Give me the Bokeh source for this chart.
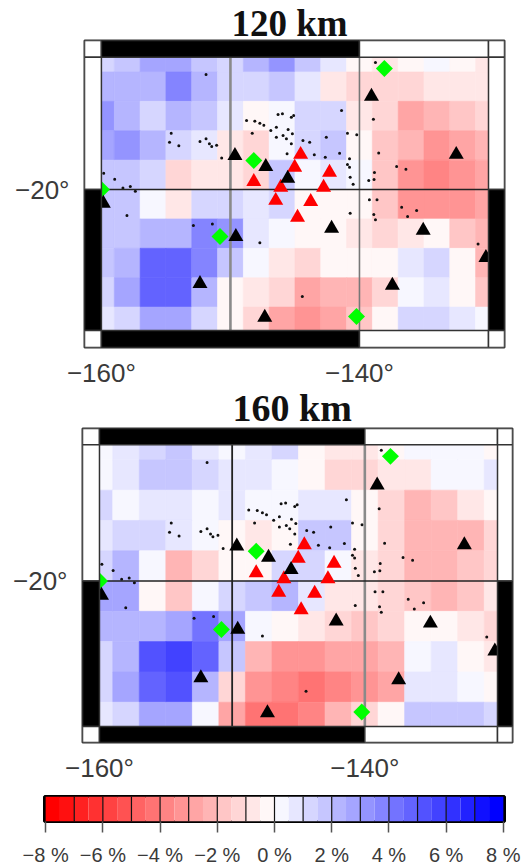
from bokeh.plotting import figure
from bokeh.models import ColumnDataSource, LinearColorMapper, FixedTicker
from bokeh.layouts import column, row
from bokeh.embed import file_html
from bokeh.resources import INLINE
import math

# ---------- data ----------
LON_EDGES = [-160, -159, -157, -155, -153, -151, -149, -147, -145, -143, -141, -139, -137, -135, -133, -131, -130]
LAT_EDGES = [-11, -12, -14, -16, -18, -20, -22, -24, -26, -28, -29.6]

VALUES_120 = [
    [1.25, 1.75, 2.75, 2.75, 1.75, 1.25, 2.25, 3.25, 1.75, 0.75, -0.25, -0.75, -0.25, 0.25, -0.25, -0.75],
    [2.25, 2.25, 2.25, 3.75, 2.25, 1.25, 1.25, 1.75, 0.75, -0.75, -1.25, -1.25, -1.25, -0.75, -0.75, -0.75],
    [3.25, 2.25, 1.25, 2.25, 1.75, 0.75, -0.25, 0.25, 1.25, 1.25, -0.75, -1.25, -2.75, -2.25, -1.75, -1.25],
    [2.75, 3.25, 2.25, 1.25, 0.75, -0.75, -1.25, 0.25, 1.25, 1.75, -0.25, -1.75, -2.25, -3.25, -2.75, -2.25],
    [1.75, 1.75, 1.25, -1.25, -0.75, -0.75, -1.25, 1.75, 0.25, 0.75, 0.25, -1.75, -3.25, -3.75, -3.25, -2.75],
    [1.75, 1.75, 0.25, -0.75, 1.25, 1.25, 0.75, 1.25, -0.25, -0.25, -0.25, -1.75, -3.25, -3.25, -3.25, -2.75],
    [1.75, 1.75, 2.25, 2.25, 3.75, 3.25, 0.75, 0.25, -0.25, -0.25, -0.75, -1.25, -0.75, -0.25, -1.75, -2.25],
    [1.75, 2.25, 4.75, 4.75, 3.75, 1.75, 0.25, -0.75, -1.25, -0.25, -0.25, -0.25, 0.75, 1.25, -0.25, -2.25],
    [1.25, 2.75, 4.75, 4.75, 2.25, -0.25, -0.75, -1.25, -2.75, -2.25, -2.25, -1.25, 0.25, 0.75, -0.25, -1.75],
    [0.75, 1.25, 2.75, 2.75, 1.25, -0.25, -1.25, -2.75, -3.25, -2.75, -1.75, -0.25, 1.25, 1.25, 0.75, 0.25],
]
VALUES_160 = [
    [0.25, 0.75, 1.25, 1.75, 0.75, 0.25, 0.75, 1.25, -0.25, -0.75, -0.75, -0.25, 0.25, 0.25, 0.25, -0.25],
    [0.25, 0.75, 1.75, 1.75, 1.25, 0.75, 0.75, 0.25, -0.25, -1.25, -1.25, -0.75, -0.75, 0.25, 0.25, 0.75],
    [1.25, 0.25, 0.75, 0.75, 0.25, 0.75, 0.25, 0.25, 0.75, 0.75, -0.25, -1.25, -2.25, -1.75, -0.75, -0.25],
    [0.75, 1.25, 1.25, 0.75, 0.25, -0.25, -0.75, -0.25, 1.75, 1.75, -0.25, -1.25, -2.25, -2.25, -2.25, -1.25],
    [1.25, 2.25, 0.25, -2.25, -1.25, -0.25, -0.25, 1.25, 1.25, 0.25, -0.75, -1.25, -2.25, -2.25, -1.75, -1.25],
    [2.75, 2.75, -0.25, -1.75, 0.25, 1.25, 1.75, 2.25, 0.75, -0.75, -0.75, -1.25, -1.75, -2.25, -1.75, -0.75],
    [2.25, 2.25, 2.25, 2.75, 4.25, 2.75, 0.25, -0.25, -0.75, -1.25, -1.75, -1.25, -0.25, -0.25, -0.75, -1.25],
    [1.25, 2.25, 5.25, 5.75, 4.75, 1.75, -2.25, -3.25, -3.25, -2.75, -2.75, -2.25, 0.25, 0.75, -0.25, -0.75],
    [1.25, 2.75, 4.75, 5.25, 2.25, -1.25, -3.25, -3.75, -4.25, -3.75, -3.25, -2.75, 0.75, 0.75, 0.25, -0.25],
    [0.75, 1.25, 2.75, 2.75, 0.25, -2.75, -4.25, -4.25, -3.75, -2.25, -1.25, -0.25, 1.75, 1.75, 1.75, 1.25],
]

BLACK_LON = [-149.65, -147.26, -145.56, -139.07, -132.5, -159.85, -149.58, -142.16, -135.06, -130.2, -152.36, -147.34, -137.45]
BLACK_LAT = [-17.7, -18.44, -19.25, -13.67, -17.62, -20.95, -23.2, -22.65, -22.79, -24.63, -26.4, -28.7, -26.53]
RED_LON = [-144.56, -145.02, -142.32, -148.19, -146.1, -142.78, -146.49, -143.78, -144.8]
RED_LAT = [-17.62, -18.5, -18.84, -19.46, -19.86, -19.86, -20.75, -20.82, -21.9]
GREEN_LON = [-138.07, -148.19, -160.0, -150.81, -140.23]
GREEN_LAT = [-11.77, -18.03, -20.0, -23.2, -28.64]

ISLE_LON = [-151.89, -148.75, -148.11, -147.72, -147.41, -146.31, -145.97, -145.28, -145.10, -146.87, -146.44, -145.53,
            -146.44, -145.92, -145.66, -145.28, -145.20, -144.38, -143.86, -145.61, -148.31, -154.59, -154.72, -154.0,
            -152.36, -151.89, -151.63, -151.45, -151.07, -150.68, -159.82, -158.97, -158.33, -157.76, -157.37,
            -138.76, -141.39, -138.92, -140.93, -140.21, -142.57, -141.54, -142.65, -143.50, -138.51, -140.77, -140.93,
            -140.77, -137.12, -136.40, -138.84, -140.72, -139.28, -138.87, -140.49,
            -158.02, -152.87, -151.40, -147.72, -144.43,
            -139.23, -138.64, -140.72, -138.89, -138.76, -136.73, -135.57, -136.27, -130.81]
ISLE_LAT = [-12.18, -15.31, -15.35, -15.49, -15.62, -14.90, -14.85, -15.08, -14.97, -15.99, -15.76, -15.92,
            -16.44, -16.33, -16.55, -16.89, -16.21, -16.67, -16.78, -17.57, -16.17, -16.17, -16.78, -17.03,
            -16.73, -16.55, -16.89, -17.07, -16.98, -17.85, -18.89, -19.30, -19.89, -19.80, -20.11,
            -11.36, -14.63, -15.22, -16.17, -16.28, -16.44, -17.53, -17.80, -17.64, -17.51, -17.91, -18.30,
            -18.48, -18.44, -18.62, -18.84, -19.16, -19.39, -19.32, -19.64,
            -21.77, -22.45, -22.34, -23.63, -27.28,
            -20.70, -20.70, -21.61, -21.70, -22.06, -21.20, -21.43, -21.84, -23.70]

LEGEND_TICKS = [-8, -6, -4, -2, 0, 2, 4, 6, 8]
LEGEND_LABELS = ["\u22128 %", "\u22126 %", "\u22124 %", "\u22122 %", "0 %", "2 %", "4 %", "6 %", "8 %"]
LEGEND_LEVELS = [-8 + 0.5 * i for i in range(33)]

# ---------- palette: 32 steps red -> white -> blue ----------
PALETTE = []
for i in range(32):
    mid = LEGEND_LEVELS[i] + 0.25
    ch = round(247 * (7.75 - abs(mid)) / 7.5)
    PALETTE.append("#%02x%02x%02x" % ((255, ch, ch) if mid < 0 else (ch, ch, 255)))
mapper = LinearColorMapper(palette=PALETTE, low=-8, high=8)

SANS = "Liberation Sans"
TEXT = "#3a3a3a"
EDGE = "#333333"


def map_figure(title, values, height, x_range, y_range, border_left, border_right, border_top, border_bottom,
               title_offset, title_standoff, title_size, line_150, line_140):
    p = figure(width=521, height=height, x_range=x_range, y_range=y_range,
               output_backend="svg", toolbar_location=None, title=title,
               min_border_left=border_left, min_border_right=border_right,
               min_border_top=border_top, min_border_bottom=border_bottom)
    p.background_fill_color = "white"
    p.grid.visible = False
    p.outline_line_color = EDGE
    p.outline_line_width = 2
    p.title.text_font = "Liberation Serif"
    p.title.text_font_style = "bold"
    p.title.text_font_size = title_size
    p.title.text_color = "#111111"
    p.title.align = "left"
    p.title.offset = title_offset
    p.title.standoff = title_standoff

    left, right, top, bottom, vals = [], [], [], [], []
    for r, row_vals in enumerate(values):
        for c, v in enumerate(row_vals):
            left.append(LON_EDGES[c]); right.append(LON_EDGES[c + 1])
            top.append(LAT_EDGES[r]); bottom.append(LAT_EDGES[r + 1])
            vals.append(v)
    p.quad(left="l", right="r", top="t", bottom="b",
           source=ColumnDataSource(dict(l=left, r=right, t=top, b=bottom, v=vals)),
           fill_color={"field": "v", "transform": mapper},
           line_color={"field": "v", "transform": mapper}, line_width=0.6)

    p.scatter(ISLE_LON, ISLE_LAT, marker="circle", size=3, color="#111111", line_color=None)

    # graticule
    color_150, width_150 = line_150
    color_140, width_140 = line_140
    p.line([-150, -150], [LAT_EDGES[0], LAT_EDGES[-1]], line_color=color_150, line_width=width_150)
    p.line([-140, -140], [LAT_EDGES[0], LAT_EDGES[-1]], line_color=color_140, line_width=width_140)
    p.line([-160, -130], [-20, -20], line_color="#222222", line_width=1.6)

    # stations
    p.scatter(GREEN_LON, GREEN_LAT, marker="square", angle=math.pi / 4, size=12, color="#00ff00", line_color=None)
    p.scatter(RED_LON, RED_LAT, marker="triangle", size=15, color="#ff0000", line_color=None)
    p.scatter(BLACK_LON, BLACK_LAT, marker="triangle", size=15, color="#000000", line_color=None)

    # map border strips
    x0, x1 = x_range
    y0, y1 = y_range
    yt, yb = LAT_EDGES[0], LAT_EDGES[-1]
    sl = [x0, -160, -140, -130, x0, -130, x0, -130, x0, -160, -140, -130]
    sr = [-160, -140, -130, x1, -160, x1, -160, x1, -160, -140, -130, x1]
    st = [y1, y1, y1, y1, yt, yt, -20, -20, yb, yb, yb, yb]
    sb = [yt, yt, yt, yt, -20, -20, yb, yb, y0, y0, y0, y0]
    sc = ["white", "black", "white", "white", "white", "white", "black", "black", "white", "black", "white", "white"]
    p.quad(left=sl, right=sr, top=st, bottom=sb, fill_color=sc, line_color=EDGE, line_width=1.5)

    p.xaxis.ticker = FixedTicker(ticks=[-160, -140])
    p.xaxis.major_label_overrides = {-160: "\u2212160\u00b0", -140: "\u2212140\u00b0"}
    p.yaxis.ticker = FixedTicker(ticks=[-20])
    p.yaxis.major_label_overrides = {-20: "\u221220\u00b0"}
    for ax in (p.xaxis, p.yaxis):
        ax.axis_line_color = None
        ax.major_tick_line_color = None
        ax.minor_tick_line_color = None
        ax.major_label_text_font = SANS
        ax.major_label_text_font_size = "26px"
        ax.major_label_text_color = TEXT
        ax.major_tick_out = 0
        ax.major_tick_in = 0
    p.xaxis.major_label_standoff = 10
    p.yaxis.major_label_standoff = 15
    return p


top_map = map_figure("120 km", VALUES_120, 390, (-161.31, -128.76), (-30.75, -9.86),
                     84, 17, 40, 43, 147, -6, "37px", ("#8a8a8a", 2.6), ("#777777", 1.6))
bot_map = map_figure("160 km", VALUES_160, 401, (-161.28, -128.87), (-30.66, -9.93),
                     82, 9, 44, 42, 150, 0, "38px", ("#222222", 1.8), ("#8a8a8a", 2.6))
bot_map.margin = (-6, 0, 0, 0)

# colour legend
bar = figure(width=521, height=83, x_range=(-8.04, 8.04), y_range=(0, 1),
             output_backend="svg", toolbar_location=None,
             min_border_left=44, min_border_right=17, min_border_top=11, min_border_bottom=41)
bar.grid.visible = False
bar.outline_line_color = "black"
bar.outline_line_width = 3
bar.yaxis.visible = False
levels = LEGEND_LEVELS
bar.quad(left="l", right="r", top=1, bottom=0,
         source=ColumnDataSource(dict(l=levels[:-1], r=levels[1:], v=[x + 0.25 for x in levels[:-1]])),
         fill_color={"field": "v", "transform": mapper}, line_color=None)
bar.segment(x0=list(range(-7, 8)), y0=[0] * 15, x1=list(range(-7, 8)), y1=[1] * 15,
            line_color="#111111", line_width=1.2)
bar.xaxis.ticker = FixedTicker(ticks=LEGEND_TICKS)
bar.xaxis.major_label_overrides = dict(zip(LEGEND_TICKS, LEGEND_LABELS))
bar.xaxis.axis_line_color = None
bar.xaxis.minor_tick_line_color = None
bar.xaxis.major_tick_line_color = "#555555"
bar.xaxis.major_tick_line_width = 1.5
bar.xaxis.major_tick_out = 11
bar.xaxis.major_tick_in = 0
bar.xaxis.major_label_standoff = 11
bar.xaxis.major_label_text_font = SANS
bar.xaxis.major_label_text_font_size = "20px"
bar.xaxis.major_label_text_color = TEXT

page = column(row(top_map), row(bot_map), row(bar), spacing=0)
open("out.html", "w").write(file_html(page, INLINE))
